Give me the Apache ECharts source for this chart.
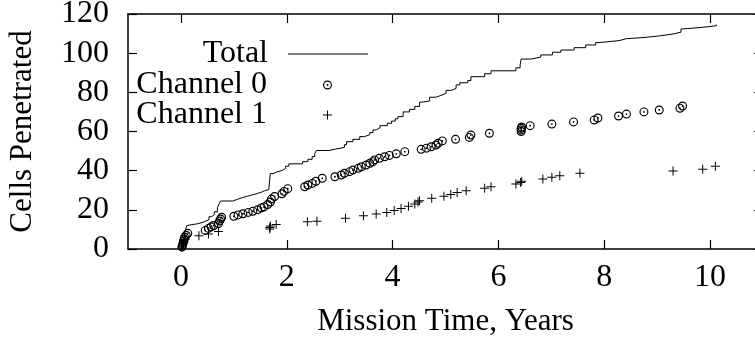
<!DOCTYPE html>
<html>
<head>
<meta charset="utf-8">
<script src="https://cdn.jsdelivr.net/npm/echarts@6/dist/echarts.min.js"></script>
<style>
  html, body { margin: 0; padding: 0; background: #fff; }
  #chart { width: 755px; height: 347px; }
</style>
</head>
<body>
<div id="chart"></div>
<script>
// tick positions
var xTicks = [0, 2, 4, 6, 8, 10]

// Total: step line, [years, cells]
var totalData = [
  [0, 0], [0.04, 2], [0.05, 4], [0.06, 6], [0.07, 8], [0.09, 10], [0.11, 12], [0.13, 13],
  [0.34, 14], [0.45, 15], [0.53, 16.5], [0.58, 17.5], [0.63, 19], [0.69, 21], [0.72, 23], [0.75, 24.5],
  [0.98, 25.5], [1.08, 26.3], [1.17, 27], [1.26, 27.6], [1.35, 28.3], [1.44, 29], [1.52, 29.7], [1.58, 30.3],
  [1.66, 31], [1.69, 38.5], [1.74, 39.3], [1.81, 40.2], [1.92, 41.2], [1.98, 42.3], [2.04, 43.5],
  [2.30, 44.6], [2.40, 45.8], [2.48, 47.2], [2.53, 48.8], [2.56, 50.3], [2.80, 51], [2.92, 51.9],
  [3.09, 53.3], [3.13, 54.8], [3.25, 56], [3.38, 57.4], [3.47, 58.4], [3.57, 59.5], [3.63, 60.8],
  [3.69, 61.8], [3.76, 63], [3.90, 64.2], [3.98, 65.3], [4.05, 66.5], [4.10, 67.6], [4.20, 70],
  [4.32, 71.3], [4.42, 72.8], [4.51, 75], [4.56, 75.6], [4.70, 77.5], [4.82, 78.5], [4.92, 79.5],
  [5.01, 81], [5.11, 82], [5.20, 83.8], [5.27, 84.9], [5.42, 86], [5.48, 88], [5.74, 89.5], [5.86, 91],
  [6.33, 92.5], [6.41, 94], [6.43, 97], [6.62, 98], [6.80, 99.1], [7.02, 100.5], [7.18, 101.6],
  [7.43, 102.8], [7.65, 104.2], [7.84, 105.4], [7.90, 106.4], [8.28, 107.4], [8.42, 108], [8.75, 108.8],
  [9.04, 109.8], [9.30, 110.7], [9.45, 112.3], [9.48, 113.2], [9.86, 114], [10.12, 114.6]
]

// Channel 0: circles
var channel0Data = [
  [0.02, 1], [0.03, 2], [0.04, 3], [0.05, 4], [0.06, 5], [0.07, 6], [0.10, 7], [0.13, 8],
  [0.46, 9.5], [0.52, 10.5], [0.57, 11.3], [0.62, 12], [0.71, 13], [0.73, 14.3], [0.75, 15.3], [0.77, 16.2],
  [1.00, 16.7], [1.08, 17.4], [1.17, 18], [1.27, 18.7], [1.36, 19.3], [1.45, 20], [1.52, 21], [1.57, 21.5],
  [1.64, 22.7], [1.69, 24], [1.71, 25.5], [1.77, 26.8], [1.91, 28.2], [1.95, 29.4], [2.02, 30.8],
  [2.34, 31.8], [2.40, 32.7], [2.48, 33.5], [2.55, 34.6], [2.67, 36.1], [2.91, 36.9], [3.03, 37.8],
  [3.09, 38.7], [3.19, 39.5], [3.25, 40.3], [3.35, 41.2], [3.41, 42], [3.50, 42.9], [3.57, 43.8],
  [3.63, 44.6], [3.66, 45.5], [3.75, 46.3], [3.85, 47.1], [3.94, 47.8], [4.07, 48.6], [4.23, 49.7],
  [4.54, 50.9], [4.64, 51.5], [4.73, 52.2], [4.82, 53.1], [4.86, 54], [4.94, 55.2], [5.19, 56],
  [5.45, 57], [5.48, 58.2], [5.83, 59.1], [6.43, 60], [6.43, 60.8], [6.43, 61.6], [6.44, 62.3],
  [6.60, 63], [7.01, 63.8], [7.42, 64.9], [7.81, 65.9], [7.88, 66.9], [8.27, 67.9], [8.42, 68.9],
  [8.75, 70], [9.04, 71], [9.43, 71.9], [9.48, 73]
]

// Channel 1: plus signs
var channel1Data = [
  [0.02, 1], [0.03, 2], [0.05, 3], [0.06, 4], [0.08, 5], [0.34, 6.8], [0.52, 7.6], [0.71, 8.9],
  [1.68, 10.2], [1.68, 11], [1.69, 11.7], [1.80, 12.5], [2.39, 13.9], [2.57, 14.2], [3.11, 15.7],
  [3.45, 17], [3.69, 17.9], [3.89, 18.6], [4.03, 19.7], [4.16, 20.7], [4.30, 21.8], [4.42, 23],
  [4.48, 24], [4.51, 24.7], [4.74, 25.9], [4.97, 26.9], [5.10, 27.8], [5.22, 28.8], [5.39, 29.8],
  [5.74, 31], [5.86, 31.8], [6.33, 33.2], [6.42, 34], [6.44, 34.6], [6.84, 35.8], [7.01, 36.6],
  [7.16, 37.4], [7.54, 38.7], [9.30, 39.8], [9.86, 40.7], [10.10, 42.2]
]

var FONT = 'Liberation Serif'
var FSIZE = 32
var circleDot = 'path://M0,10 A10,10 0 1,1 20,10 A10,10 0 1,1 0,10 Z M2.6,10 A7.4,7.4 0 1,0 17.4,10 A7.4,7.4 0 1,0 2.6,10 Z M8,10 A2,2 0 1,1 12,10 A2,2 0 1,1 8,10 Z'
var plusMark = 'path://M4,0 H5 V4 H9 V5 H5 V9 H4 V5 H0 V4 H4 Z'
var lineMark = 'path://M0,0 H80 V1 H0 Z'

var chart = echarts.init(document.getElementById('chart'), null, { renderer: 'canvas' })

// one legend per row so the text ends line up like a gnuplot key
function legendAt(item, top, right, w, h, gap) {
  return {
    data: [item],
    orient: 'vertical',
    align: 'right',
    right: right,
    top: top,
    padding: 0,
    itemWidth: w,
    itemHeight: h,
    selectedMode: false,
    textStyle: { fontFamily: FONT, fontSize: FSIZE, color: '#000', padding: [0, gap, 0, 0], lineHeight: 32 }
  }
}

function axisBase(extra) {
  return Object.assign({
    type: 'value',
    axisLine: { show: true, onZero: false, lineStyle: { color: '#000', width: 1.5 } },
    splitLine: { show: false },
    axisTick: { show: true, inside: true, length: 9, lineStyle: { color: '#000', width: 1.2 } },
    axisLabel: { show: false }
  }, extra)
}

chart.setOption({
  animation: false,
  backgroundColor: '#fff',
  grid: { left: 128, top: 14, width: 635, height: 235, containLabel: false, outerBoundsMode: 'none' },
  legend: [
    legendAt({ name: 'Total', icon: lineMark }, 38, 387, 80, 10, 15),
    legendAt('Channel 0', 69, 423, 9, 9, 51),
    legendAt('Channel 1', 99, 423, 9, 9, 51)
  ],
  xAxis: [
    axisBase({
      position: 'bottom', min: -1, max: 11,
      axisTick: { show: true, inside: true, length: 9, customValues: xTicks, lineStyle: { color: '#000', width: 1.2 } },
      axisLabel: { show: true, customValues: xTicks, margin: 13, fontFamily: FONT, fontSize: FSIZE, color: '#000' },
      name: 'Mission Time, Years', nameLocation: 'middle', nameGap: 57,
      nameTextStyle: { fontFamily: FONT, fontSize: 31, color: '#000' }
    }),
    axisBase({
      position: 'top', min: -1, max: 11,
      axisTick: { show: true, inside: true, length: 9, customValues: xTicks, lineStyle: { color: '#000', width: 1.2 } }
    })
  ],
  yAxis: [
    axisBase({
      position: 'left', min: 0, max: 120, interval: 20,
      axisLabel: { show: true, margin: 19, fontFamily: FONT, fontSize: FSIZE, color: '#000' },
      name: 'Cells Penetrated', nameLocation: 'middle', nameGap: 90, nameRotate: 90,
      nameTextStyle: { fontFamily: FONT, fontSize: 31, color: '#000' }
    }),
    axisBase({ position: 'right', min: 0, max: 120, interval: 20 })
  ],
  series: [
    {
      name: 'Total', type: 'line', step: 'end', data: totalData,
      symbol: 'none', showSymbol: false,
      lineStyle: { color: '#000', width: 1 }, itemStyle: { color: '#000' }
    },
    {
      name: 'Channel 0', type: 'scatter', data: channel0Data,
      symbol: circleDot, symbolSize: 9,
      itemStyle: { color: '#000', opacity: 1 }
    },
    {
      name: 'Channel 1', type: 'scatter', data: channel1Data,
      symbol: plusMark, symbolSize: 9,
      itemStyle: { color: '#000', opacity: 1 }
    }
  ]
})
</script>
</body>
</html>
